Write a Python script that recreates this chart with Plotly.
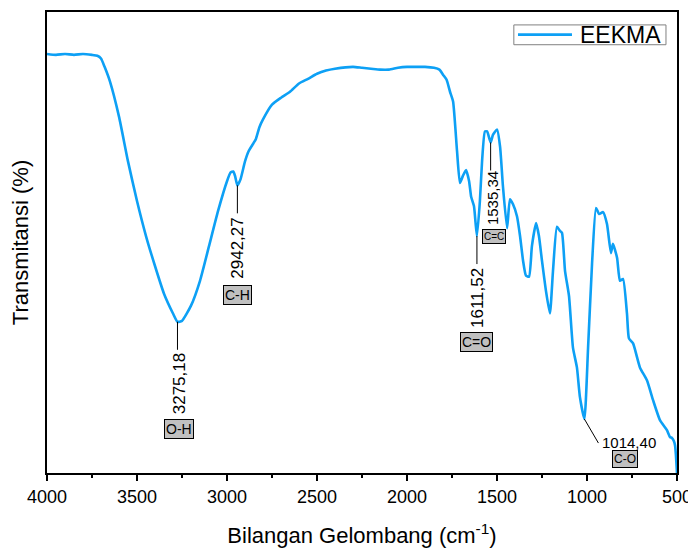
import plotly.graph_objects as go

# FTIR spectrum of EEKMA
wavenumber = [4000, 3950, 3900, 3850, 3800, 3750, 3720, 3700, 3680, 3650, 3600, 3550, 3500, 3450,
              3400, 3350, 3300, 3275.18, 3250, 3200, 3150, 3100, 3050, 3000, 2980, 2965, 2955,
              2942.27, 2925, 2900, 2880, 2860, 2840, 2820, 2800, 2750, 2700, 2650, 2600, 2550,
              2500, 2450, 2400, 2300, 2250, 2200, 2150, 2100, 2050, 2000, 1950, 1900, 1850, 1820,
              1800, 1780, 1761, 1744, 1722, 1706, 1690, 1672, 1655, 1644, 1628, 1611.52, 1595,
              1583, 1567, 1555, 1535.34, 1522, 1500, 1483, 1467, 1444, 1428, 1411, 1389, 1372,
              1355, 1339, 1322, 1306, 1283, 1267, 1250, 1228, 1206, 1189, 1167, 1150, 1139, 1122,
              1100, 1078, 1056, 1039, 1014.40, 994, 972, 950, 933, 911, 889, 867, 856, 833, 817,
              800, 778, 767, 744, 706, 667, 633, 594, 556, 539, 528, 517, 511, 506, 500]
transmittance = [90.9, 90.7, 90.9, 90.7, 90.9, 90.7, 90.5, 89.9, 88.1, 84.9, 77.3, 67.6, 59.0, 51.4,
                 44.9, 38.9, 34.6, 32.8, 33.0, 36.3, 41.7, 49.2, 56.8, 63.3, 65.2, 65.4, 64.4,
                 62.4, 63.7, 67.6, 69.8, 71.1, 72.4, 75.0, 76.7, 79.9, 81.4, 82.7, 84.5, 85.5,
                 86.6, 87.3, 87.7, 88.1, 87.9, 87.7, 87.5, 87.5, 87.9, 88.1, 88.1, 88.1, 87.9, 87.5,
                 86.4, 85.3, 82.7, 80.6, 69.8, 62.9, 64.4, 65.7, 63.3, 60.0, 57.9, 51.4, 59.0,
                 67.6, 74.1, 74.1, 71.7, 73.4, 74.5, 70.8, 62.2, 53.1, 59.4, 58.3, 55.7, 51.4,
                 46.0, 42.8, 42.6, 49.2, 54.2, 51.4, 46.0, 39.5, 34.6, 43.8, 53.4, 52.5, 52.1, 43.8,
                 38.4, 27.2, 22.9, 16.4, 11.7, 27.2, 45.4, 57.5, 56.2, 56.6, 54.0, 47.7, 49.7, 46.7, 41.7,
                 42.1, 34.6, 29.2, 28.1, 22.9, 20.1, 15.8, 11.4, 9.3, 7.8, 7.6, 6.9, 6.0, 3.9, 0.0]

# Labelled peaks
peak_wn = [3275.18, 2942.27, 1611.52, 1535.34, 1014.40]
peak_T = [32.8, 62.4, 51.4, 71.7, 11.7]
peak_text = ["3275,18", "2942,27", "1611,52", "1535,34", "1014,40"]
peak_group = ["O-H", "C-H", "C=O", "C=C", "C-O"]
series_name = "EEKMA"

# styling per label (pixel offsets)
text_shift = [(2, -62), (0, -63), (0, -62), (2, -56)]
box_shift = [(2, -107), (0, -110), (0, -106), (3, -94)]
text_size = [17, 17, 17, 15]
box_size = [14, 14, 14, 10]

LINE_COLOR = "#0DA0F5"
FONT = "Liberation Sans, Arial, sans-serif"

fig = go.Figure()
fig.add_trace(go.Scatter(x=wavenumber, y=transmittance, mode="lines", name=series_name,
                         showlegend=False,
                         line=dict(color=LINE_COLOR, width=2.6, shape="spline", smoothing=0.5)))

shapes = []
annotations = []
for i in range(4):
    shapes.append(dict(type="line", xref="x", yref="y", x0=peak_wn[i], x1=peak_wn[i],
                       ysizemode="pixel", yanchor=peak_T[i], y0=0, y1=-28,
                       line=dict(color="black", width=1)))
    annotations.append(dict(x=peak_wn[i], y=peak_T[i], xref="x", yref="y", text=peak_text[i],
                            textangle=-90, showarrow=False, xanchor="center", yanchor="middle",
                            xshift=text_shift[i][0], yshift=text_shift[i][1],
                            font=dict(size=text_size[i], color="black", family=FONT)))
    annotations.append(dict(x=peak_wn[i], y=peak_T[i], xref="x", yref="y", text=peak_group[i],
                            showarrow=False, xanchor="center", yanchor="middle",
                            xshift=box_shift[i][0], yshift=box_shift[i][1],
                            bgcolor="#C0C0C0", bordercolor="black", borderwidth=1, borderpad=1,
                            font=dict(size=box_size[i], color="black", family=FONT)))

# 1014,40 label (diagonal leader)
shapes.append(dict(type="line", xref="x", yref="y", xsizemode="pixel", ysizemode="pixel",
                   xanchor=peak_wn[4], yanchor=peak_T[4], x0=0, x1=14, y0=0, y1=-24,
                   line=dict(color="black", width=1)))
annotations.append(dict(x=peak_wn[4], y=peak_T[4], xref="x", yref="y", text=peak_text[4],
                        showarrow=False, xanchor="left", yanchor="middle", xshift=16, yshift=-23,
                        font=dict(size=15, color="black", family=FONT)))
annotations.append(dict(x=peak_wn[4], y=peak_T[4], xref="x", yref="y", text=peak_group[4],
                        showarrow=False, xanchor="center", yanchor="middle", xshift=41, yshift=-40,
                        bgcolor="#C0C0C0", bordercolor="black", borderwidth=1, borderpad=1,
                        font=dict(size=12, color="black", family=FONT)))

# legend box (drawn in paper coordinates)
shapes.append(dict(type="rect", xref="paper", yref="paper", x0=0.741, x1=0.9825, y0=0.929, y1=0.972,
                   line=dict(color="#808080", width=1), fillcolor="white", layer="above"))
shapes.append(dict(type="line", xref="paper", yref="paper", x0=0.7476, x1=0.8333, y0=0.951, y1=0.951,
                   line=dict(color=LINE_COLOR, width=2.6), layer="above"))
annotations.append(dict(x=0.843, y=0.951, xref="paper", yref="paper", text=series_name,
                        showarrow=False, xanchor="left", yanchor="middle",
                        font=dict(size=23, color="black", family=FONT)))

# page body has an 8px margin, so the figure is 8px smaller and margins shifted
fig.update_layout(
    width=688, height=541,
    margin=dict(l=39, r=19, t=2, b=76),
    paper_bgcolor="white", plot_bgcolor="white",
    font=dict(family=FONT, color="black"),
    showlegend=False,
    shapes=shapes, annotations=annotations,
    xaxis=dict(range=[4000, 500], dtick=500, tick0=500, showline=True, mirror=True,
               linecolor="black", linewidth=2, ticks="outside", ticklen=6, tickwidth=2,
               tickcolor="black", showgrid=False, zeroline=False,
               tickfont=dict(size=18, color="black", family=FONT),
               minor=dict(dtick=250, tick0=500, ticks="outside", ticklen=3, tickwidth=1.5,
                          tickcolor="black", showgrid=False),
               title=dict(text="Bilangan Gelombang (cm<sup>-1</sup>)", standoff=22,
                          font=dict(size=22, color="black", family=FONT))),
    yaxis=dict(range=[0, 100], showline=True, mirror=True, linecolor="black", linewidth=2,
               ticks="", showticklabels=False, showgrid=False, zeroline=False,
               title=dict(text="Transmitansi (%)", standoff=13,
                          font=dict(size=22, color="black", family=FONT))),
)

fig.write_html("out.html")
